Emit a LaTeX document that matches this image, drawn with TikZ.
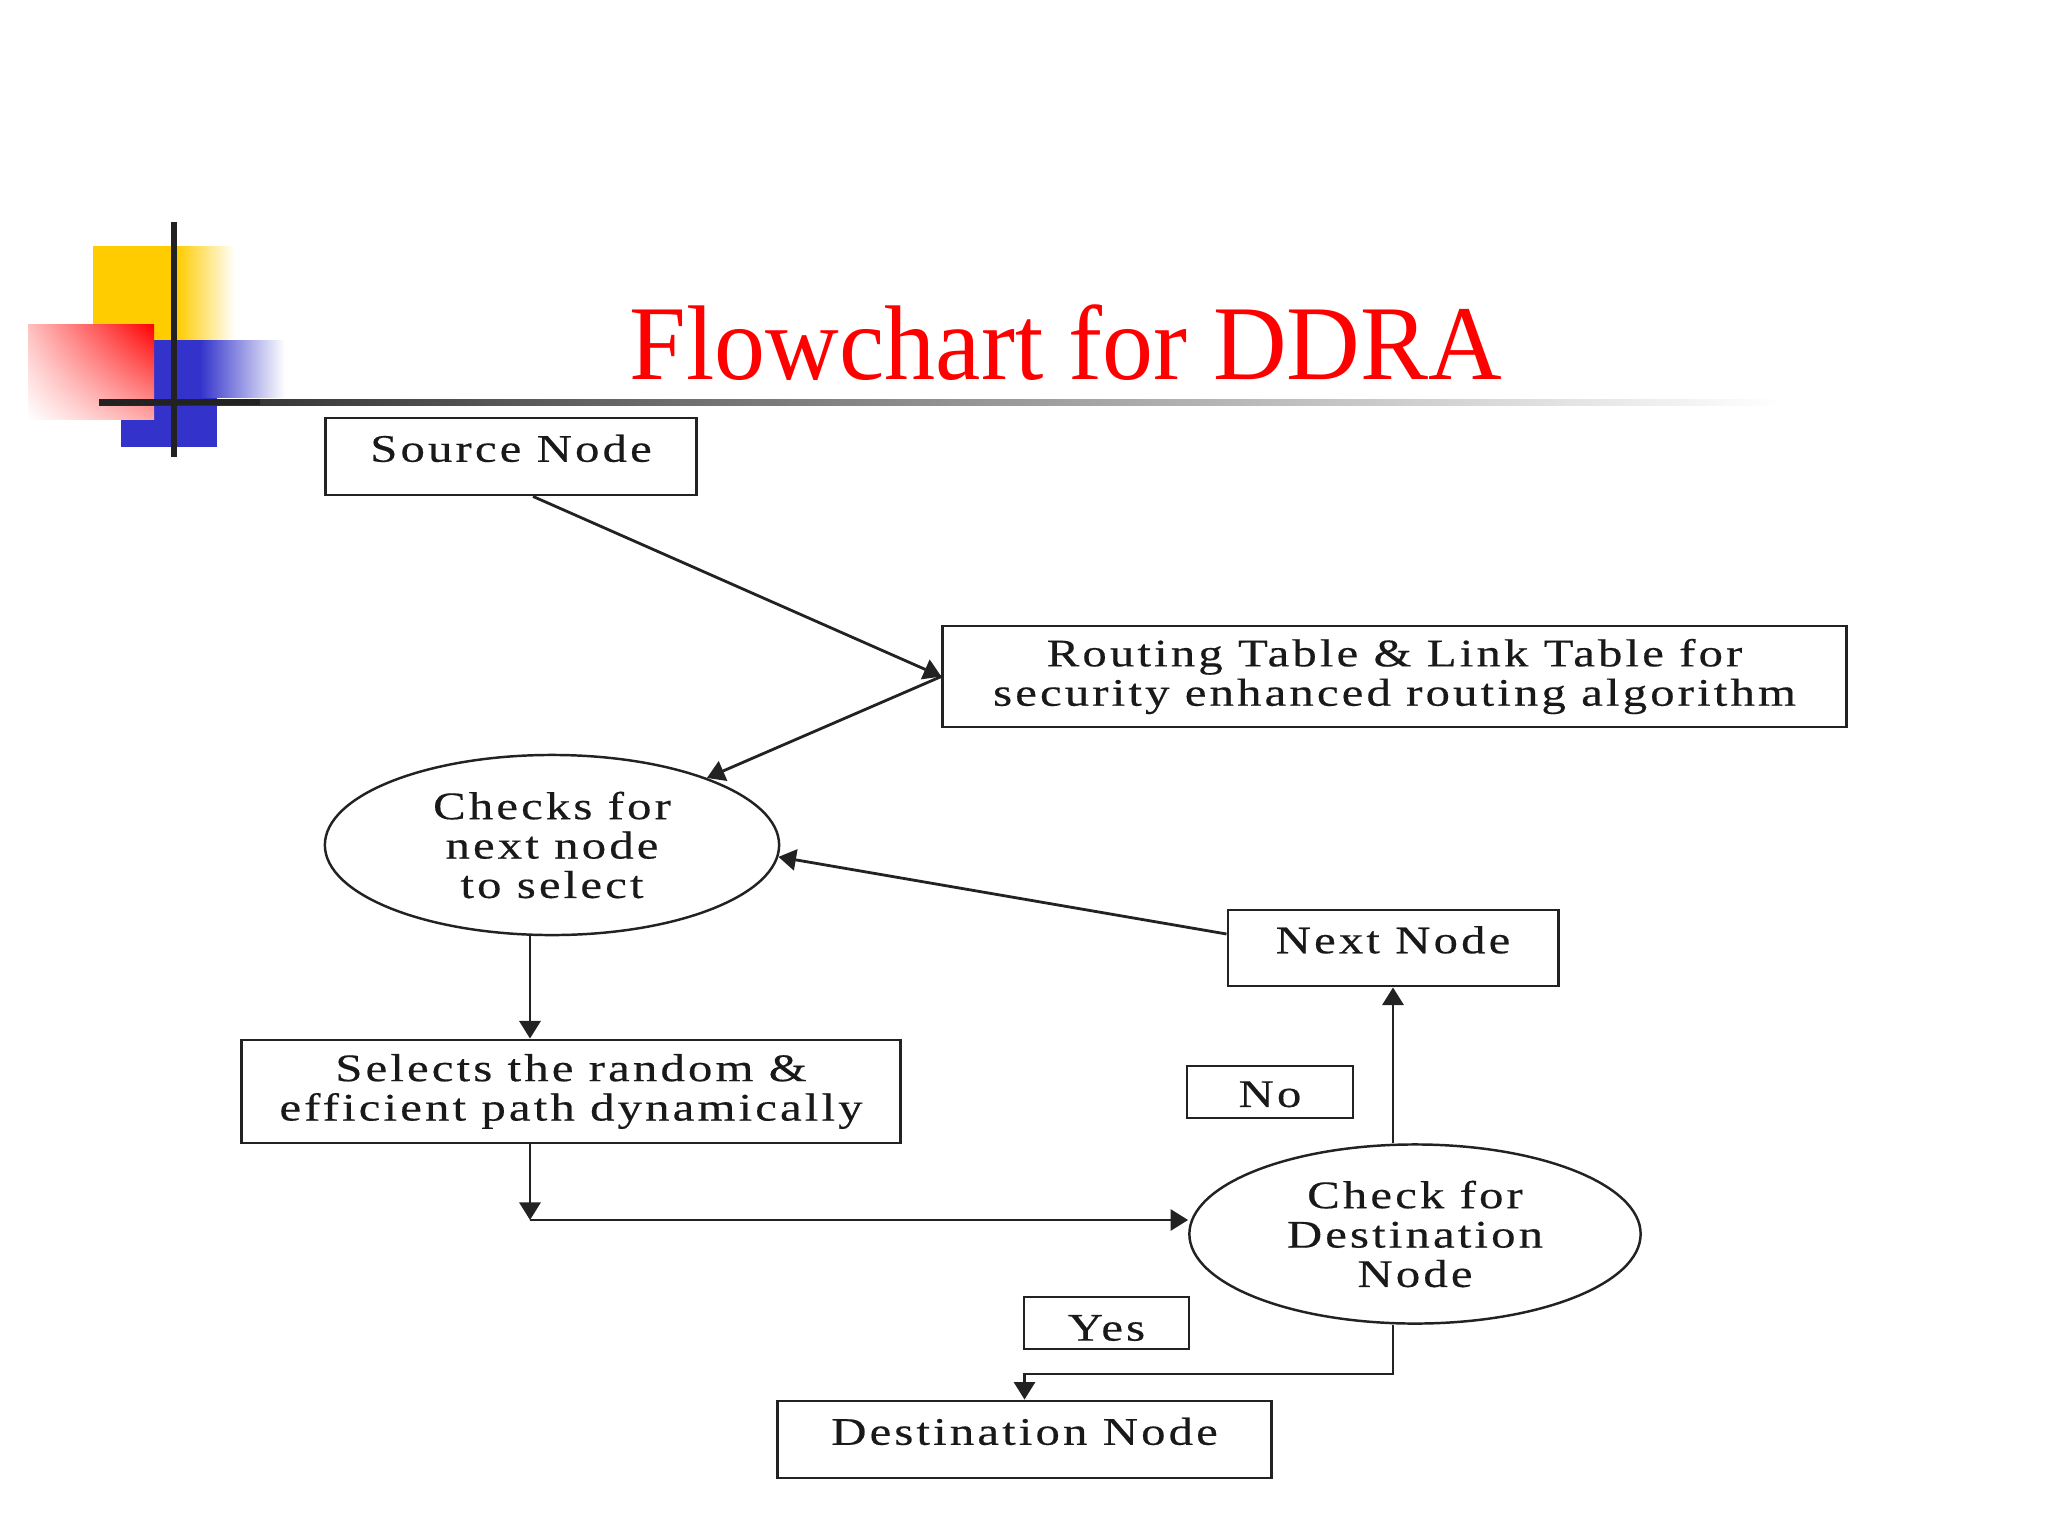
\documentclass[tikz,border=0pt]{standalone}
\usepackage{fontspec}
\setmainfont{Liberation Serif}
\usetikzlibrary{shapes.geometric,arrows.meta,calc,shadings}
\definecolor{logoyellow}{RGB}{255,204,0}
\definecolor{logoblue}{RGB}{51,51,204}
\definecolor{logored}{RGB}{255,0,0}
\definecolor{linecol}{RGB}{34,34,34}
\begin{document}
\begin{tikzpicture}[x=0.01cm,y=-0.01cm,
  lbl/.style={font=\fontsize{11.1}{11.2}\selectfont\addfontfeature{FakeStretch=1.25,LetterSpace=8,FakeBold=0.4}, text=black!90, align=center},
  box/.style={lbl, draw=linecol, line width=0.8pt, rectangle, inner sep=0pt},
  obox/.style={box, text height=0.7em, text depth=0.4em},
  smallbox/.style={box, text depth=0pt},
  oval/.style={lbl, draw=linecol, line width=0.7pt, ellipse, inner sep=0pt},
  arr/.style={draw=linecol, line width=0.8pt, -{Triangle[length=5pt,width=6pt]}}]
% canvas
\fill[white] (0,0) rectangle (2048,1536);
\useasboundingbox (0,0) rectangle (2048,1536);
% logo
\fill[logoyellow] (93,246) rectangle (178,340);
\shade[left color=logoyellow, right color=white] (177,246) rectangle (235,340);
\fill[logoblue] (121,340) rectangle (217,447);
\shade[left color=logoblue, right color=white] (200,340) rectangle (285,397);
\shade[upper right=logored, upper left=logored!25, lower right=logored!35, lower left=white] (28,324) rectangle (154,419);
\shade[left color=linecol, right color=white] (99,399) rectangle (1780,405);
\fill[linecol] (99,399) rectangle (260,405);
\fill[linecol] (171,222) rectangle (177,457);
% title
\node[text=logored, font=\fontsize{30.2}{32}\selectfont, anchor=base, inner sep=0pt] (title) at (1066,379) {\scalebox{0.96}[1]{Flowchart for DDRA}};
% nodes
\node[obox, minimum width=3.71cm, minimum height=0.77cm] (src) at (511,456.5) {Source Node};
\node[box, minimum width=9.03cm, minimum height=1.01cm] (rt) at (1394.5,676.5) {Routing Table \& Link Table for\\security enhanced routing algorithm};
\node[oval, minimum width=4.54cm, minimum height=1.80cm] (chk) at (552,845) {Checks for\\next node\\to select};
\node[obox, minimum width=3.30cm, minimum height=0.76cm] (nn) at (1393,948) {Next Node};
\node[box, minimum width=6.58cm, minimum height=1.03cm] (sel) at (571,1091.5) {Selects the random \&\\efficient path dynamically};
\node[smallbox, text height=0.85em, minimum width=1.66cm, minimum height=0.52cm] (no) at (1270,1092) {No};
\node[oval, minimum width=4.51cm, minimum height=1.79cm] (cd) at (1415,1234) {Check for\\Destination\\Node};
\node[smallbox, text height=1.0em, minimum width=1.65cm, minimum height=0.52cm] (yes) at (1106.5,1323) {Yes};
\node[obox, minimum width=4.93cm, minimum height=0.77cm] (dn) at (1024.5,1439.5) {Destination Node};
% helper corners
\coordinate (c1) at (530,1220);
\coordinate (c2) at (1393,1374);
% connectors
\draw[arr] ([xshift=0.22cm]src.south) -- (rt.west);
\draw[arr] (rt.west) -- (chk);
\draw[arr] ([yshift=0.14cm]nn.west) -- (chk.-3);
\draw[arr] ([xshift=-0.22cm]chk.south) -- ([xshift=-0.22cm]chk.south |- sel.north);
\draw[arr] (sel.south -| c1) -- (c1);
\draw[arr] (c1) -- (c1 -| cd.west);
\draw[arr] (nn.south |- cd.north) -- (nn.south);
\draw[arr] (c2 |- cd.south) -- (c2) -| (dn.north);
\end{tikzpicture}
\end{document}
